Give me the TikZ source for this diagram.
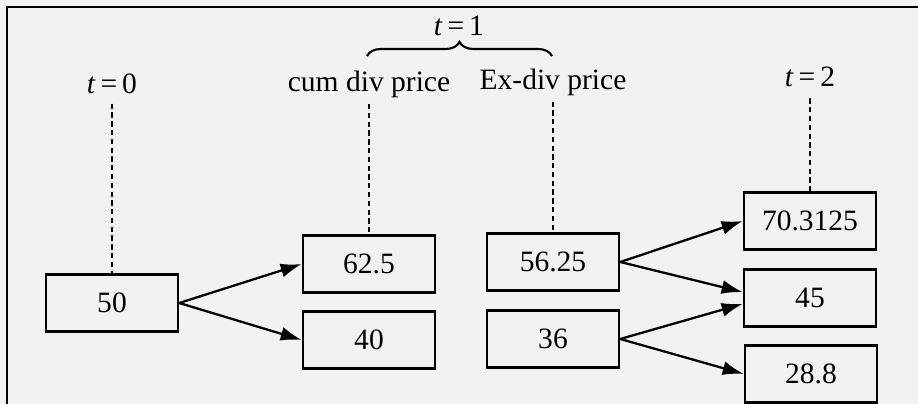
\documentclass[tikz,border=0pt]{standalone}
\usepackage{fontspec}
\setmainfont{Liberation Serif}
\usetikzlibrary{arrows.meta,decorations.pathreplacing}
\begin{document}
\begin{tikzpicture}[every node/.style={font=\fontsize{16.8}{20}\selectfont},
  b/.style={draw, line width=1.4pt, minimum width=2.64cm, minimum height=1.14cm},
  arr/.style={-{Latex[length=12pt,width=8pt]}, line width=1.3pt},
  dl/.style={line width=1.3pt, dash pattern=on 3pt off 2pt}]
  \useasboundingbox[fill=black!5] (0,0) rectangle (18.36,8.08);
  \draw[line width=1.2pt] (0.14,0) -- (0.14,7.94) -- (18.36,7.94);
  % time labels
  \node (lt0) at (2.24,6.40) {\textit{t}\,=\,0};
  \node (lcum) at (7.38,6.39) {cum div price};
  \node (lex) at (11.06,6.44) {Ex-div price};
  \node (lt2) at (16.20,6.54) {\textit{t}\,=\,2};
  \node (lt1) at (9.18,7.57) {\textit{t}\,=\,1};
  \draw[line width=1.2pt, decorate, decoration={brace, amplitude=0.28cm}] (7.34,6.96) -- (11.04,6.96);
  % prices
  \node[b] (s0) at (2.24,2.02) {50};
  \node[b] (up) at (7.38,2.80) {62.5};
  \node[b] (down) at (7.38,1.28) {40};
  \node[b] (exup) at (11.06,2.84) {56.25};
  \node[b] (exdown) at (11.06,1.30) {36};
  \node[b] (uu) at (16.20,3.66) {70.3125};
  \node[b] (ud) at (16.20,2.12) {45};
  \node[b] (dd) at (16.22,0.60) {28.8};
  \draw[dl, shorten <=2pt] (lt0) -- (s0);
  \draw[dl] (lcum) -- (up);
  \draw[dl] (lex) -- (exup);
  \draw[dl, shorten <=3pt] (lt2) -- (uu);
  \draw[arr] (s0.east) -- (up.west); \draw[arr] (s0.east) -- (down.west);
  \draw[arr] (exup.east) -- (uu.west); \draw[arr] (exup.east) -- (ud.175);
  \draw[arr] (exdown.east) -- (ud.185); \draw[arr] (exdown.east) -- (dd.west);
\end{tikzpicture}
\end{document}
